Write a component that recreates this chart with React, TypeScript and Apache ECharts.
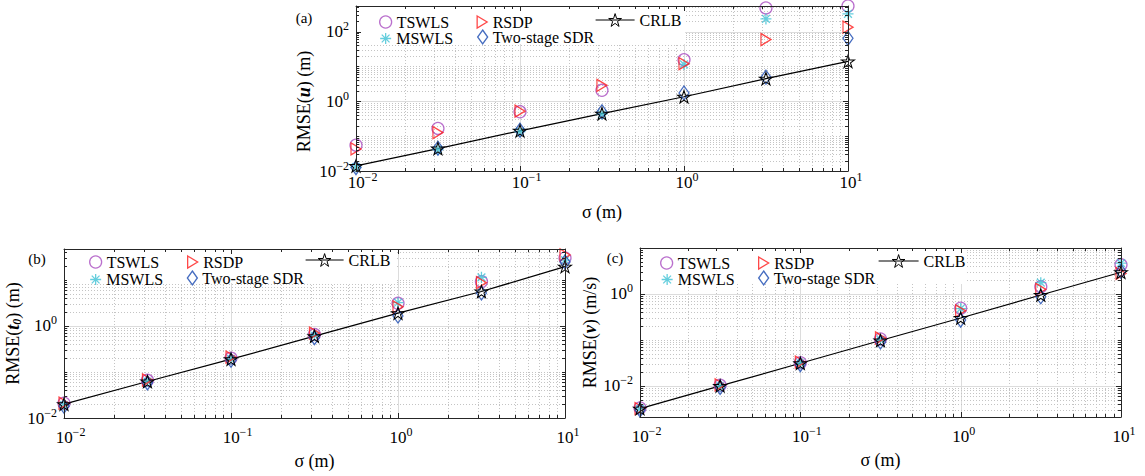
import React, { useEffect, useRef } from 'react';
import * as echarts from 'echarts';

// ---------------- data ----------------
const SIGMA = [0.01, 0.0316, 0.1, 0.316, 1, 3.16, 10];
const NAMES = ['TSWLS', 'MSWLS', 'RSDP', 'Two-stage SDR', 'CRLB'];

// (a) RMSE(u) (m)
const A_TSWLS = [0.055, 0.166, 0.5, 2.06, 15.5, 475, 540];
const A_MSWLS = [0.013, 0.041, 0.135, 0.43, 11.4, 230, 320];
const A_RSDP = [0.043, 0.127, 0.52, 2.86, 12, 59, 133];
const A_SDR = [0.0125, 0.045, 0.148, 0.5, 1.73, 4.9, 64];
const A_CRLB = [0.014, 0.044, 0.142, 0.44, 1.35, 4.45, 13.9];

// (b) RMSE(t0) (m)
const B_TSWLS = [0.021, 0.066, 0.2, 0.65, 3.1, 9.2, 30];
const B_MSWLS = [0.019, 0.062, 0.19, 0.62, 3.2, 11.4, 27];
const B_RSDP = [0.021, 0.067, 0.21, 0.7, 2.6, 8.7, 35];
const B_SDR = [0.018, 0.058, 0.18, 0.56, 1.65, 5.2, 24.6];
const B_CRLB = [0.02, 0.062, 0.19, 0.6, 1.9, 5.6, 19.5];

// (c) RMSE(v) (m/s)
const C_TSWLS = [0.0033, 0.0103, 0.032, 0.105, 0.49, 1.44, 4.3];
const C_MSWLS = [0.0031, 0.0098, 0.031, 0.1, 0.48, 1.76, 4.7];
const C_RSDP = [0.0032, 0.0105, 0.033, 0.11, 0.43, 1.26, 2.8];
const C_SDR = [0.003, 0.0093, 0.029, 0.09, 0.27, 0.87, 3.1];
const C_CRLB = [0.0032, 0.01, 0.031, 0.097, 0.3, 0.95, 2.97];

// tick-label exponents
const X_LABEL_EXP = [-2, -1, 0, 1];
const A_Y_LABEL_EXP = [-2, 0, 2];
const B_Y_LABEL_EXP = [-2, 0];
const C_Y_LABEL_EXP = [-2, 0];

// axis ranges
const X_RANGE = [0.01, 10];
const A_Y_RANGE = [0.01, 540];
const B_Y_RANGE = [0.01, 47];
const C_Y_RANGE = [0.0021, 10];

// ---------------- styling ----------------
const FONT = '"Liberation Serif", "Times New Roman", serif';
const AXIS_COLOR = '#262626';
const COLORS = ['#A94CC0', '#3FC2D4', '#FF1A1A', '#1747B0', '#000000'];

const STAR_PATH = (() => {
  let d = '';
  for (let i = 0; i < 10; i++) {
    const r = i % 2 === 0 ? 10 : 3.82;
    const a = -Math.PI / 2 + (i * Math.PI) / 5;
    d += (i ? 'L' : 'M') + (10 + r * Math.cos(a)).toFixed(2) + ',' + (10 + r * Math.sin(a)).toFixed(2);
  }
  return 'path://' + d + 'Z';
})();
const ASTERISK_PATH = 'path://M5,0L5,10M0,5L10,5M1.46,1.46L8.54,8.54M8.54,1.46L1.46,8.54';
const TRI_RIGHT_PATH = 'path://M0,0L10,6L0,12Z';

const SYMBOLS: any[] = [
  { symbol: 'circle', size: 12, lw: [12, 12], bw: 1.3 },
  { symbol: ASTERISK_PATH, size: 11, lw: [11, 11], bw: 1.3 },
  { symbol: TRI_RIGHT_PATH, size: [10, 12], lw: [11, 12], bw: 1.3 },
  { symbol: 'diamond', size: [10, 14], lw: [10, 14], bw: 1.3 },
  { symbol: STAR_PATH, size: [13, 12.4], lw: [40, 16], bw: 1 },
];

const PANELS: any[] = [
  {
    grid: { left: 356, top: 6, width: 492, height: 165 },
    yRange: A_Y_RANGE,
    yExp: A_Y_LABEL_EXP,
    data: [A_TSWLS, A_MSWLS, A_RSDP, A_SDR, A_CRLB],
    yName: 'RMSE({bi|u}) (m)',
    yNameGap: 43,
    yNamePad: [0, 26, 0, 0],
    xLabelMargin: 0,
    xNameGap: 32,
    tag: '(a)',
    tagPos: [304, 18],
    box: [357, 7, 328, 37],
    legend: [
      [379, 20], [379.5, 36], [476.5, 20], [477, 36], [595, 20],
    ],
    crlbWidth: 39,
  },
  {
    grid: { left: 64, top: 249, width: 501, height: 169 },
    yRange: B_Y_RANGE,
    yExp: B_Y_LABEL_EXP,
    data: [B_TSWLS, B_MSWLS, B_RSDP, B_SDR, B_CRLB],
    yName: 'RMSE({bi|t}{sb|0}) (m)',
    yNameGap: 40,
    yNamePad: [0, 0, 0, 0],
    xLabelMargin: 8,
    xNameGap: 34,
    tag: '(b)',
    tagPos: [37, 259],
    box: [65, 250, 330, 33],
    legend: [
      [89, 260], [89.5, 277], [187, 260], [186.7, 277], [305, 260],
    ],
    crlbWidth: 38,
  },
  {
    grid: { left: 640, top: 248, width: 481, height: 169 },
    yRange: C_Y_RANGE,
    yExp: C_Y_LABEL_EXP,
    data: [C_TSWLS, C_MSWLS, C_RSDP, C_SDR, C_CRLB],
    yName: 'RMSE({bi|v}) (m/s)',
    yNameGap: 39,
    yNamePad: [0, 0, 0, 0],
    xLabelMargin: 8,
    xNameGap: 34,
    tag: '(c)',
    tagPos: [615, 258],
    box: [641, 249, 326, 35],
    legend: [
      [660, 261], [661, 277], [758, 261], [758, 277], [878, 261],
    ],
    crlbWidth: 40,
  },
];

// ---------------- helpers ----------------
function expOf(v: number, allowed: number[]): number | null {
  const l = Math.log10(v);
  const e = Math.round(l);
  if (Math.abs(l - e) > 0.01) return null;
  return allowed.includes(e) ? e : null;
}
function supText(e: number) {
  return (e < 0 ? '\u2212' : '') + Math.abs(e);
}

function decor(xr: number[], xMaj: number[], yr: number[], yMaj: number[]) {
  const out: number[][] = [];
  const add = (min: number, max: number, maj: number[], dir: number) => {
    for (let e = Math.floor(Math.log10(min)) - 1; e <= Math.ceil(Math.log10(max)); e++) {
      for (let k = 1; k <= 9; k++) {
        const v = k * Math.pow(10, e);
        if (v <= min * 1.001 || v >= max / 1.001) continue;
        const major = k === 1 && maj.includes(e) ? 1 : 0;
        out.push(dir === 0 ? [v, 1, 0, major] : [1, v, 1, major]);
      }
    }
  };
  add(xr[0], xr[1], xMaj, 0);
  add(yr[0], yr[1], yMaj, 1);
  return out;
}

function gridRender(params: any, api: any) {
  const cs = params.coordSys;
  const dir = api.value(2);
  const major = api.value(3);
  const style = major
    ? { stroke: '#dcdcdc', lineWidth: 1 }
    : { stroke: '#c4c4c4', lineWidth: 1, lineDash: [1, 2] };
  if (dir === 0) {
    const x = Math.round(api.coord([api.value(0), 1])[0]) + 0.5;
    return { type: 'line', shape: { x1: x, y1: cs.y, x2: x, y2: cs.y + cs.height }, style };
  }
  const y = Math.round(api.coord([1, api.value(1)])[1]) + 0.5;
  return { type: 'line', shape: { x1: cs.x, y1: y, x2: cs.x + cs.width, y2: y }, style };
}

function tickRender(params: any, api: any) {
  const cs = params.coordSys;
  const dir = api.value(2);
  const L = api.value(3) ? 5 : 3;
  const style = { stroke: AXIS_COLOR, lineWidth: 1 };
  if (dir === 0) {
    const x = Math.round(api.coord([api.value(0), 1])[0]) + 0.5;
    const b = cs.y + cs.height;
    return {
      type: 'group',
      children: [
        { type: 'line', shape: { x1: x, y1: b, x2: x, y2: b - L }, style },
        { type: 'line', shape: { x1: x, y1: cs.y, x2: x, y2: cs.y + L }, style },
      ],
    };
  }
  const y = Math.round(api.coord([1, api.value(1)])[1]) + 0.5;
  const r = cs.x + cs.width;
  return {
    type: 'group',
    children: [
      { type: 'line', shape: { x1: cs.x, y1: y, x2: cs.x + L, y2: y }, style },
      { type: 'line', shape: { x1: r, y1: y, x2: r - L, y2: y }, style },
    ],
  };
}

function buildOption() {
  const grid: any[] = [];
  const xAxis: any[] = [];
  const yAxis: any[] = [];
  const series: any[] = [];
  const legend: any[] = [];
  const graphic: any[] = [];

  const xRich = {
    bw: { fontFamily: FONT, fontSize: 17, color: '#000', padding: [0, 0, 0, 13] },
    bn: { fontFamily: FONT, fontSize: 17, color: '#000', padding: [0, 0, 0, 6] },
    s: { fontFamily: FONT, fontSize: 12, color: '#000', padding: [0, 0, 11, 0] },
  };
  const yRich = {
    b: { fontFamily: FONT, fontSize: 17, color: '#000' },
    s: { fontFamily: FONT, fontSize: 12, color: '#000', padding: [0, 0, 11, 0] },
  };

  PANELS.forEach((p, pi) => {
    grid.push({ ...p.grid, containLabel: false });
    const lineStyle = { color: AXIS_COLOR, width: 1 };
    xAxis.push({
      type: 'log', logBase: 10, gridIndex: pi, position: 'bottom',
      min: X_RANGE[0], max: X_RANGE[1],
      axisLine: { show: true, onZero: false, lineStyle },
      axisTick: { show: false }, splitLine: { show: false }, minorTick: { show: false },
      axisLabel: {
        margin: p.xLabelMargin,
        formatter: (v: number) => {
          const e = expOf(v, X_LABEL_EXP);
          if (e === null) return '';
          return `{${e < 0 ? 'bw' : 'bn'}|10}{s|${supText(e)}}`;
        },
        rich: xRich,
      },
      name: 'σ (m)', nameLocation: 'middle', nameGap: p.xNameGap,
      nameTextStyle: { fontFamily: FONT, fontSize: 18, color: '#000' },
      z: 7,
    });
    xAxis.push({
      type: 'log', logBase: 10, gridIndex: pi, position: 'top',
      min: X_RANGE[0], max: X_RANGE[1],
      axisLine: { show: true, onZero: false, lineStyle },
      axisTick: { show: false }, splitLine: { show: false }, axisLabel: { show: false },
      z: 7,
    });
    yAxis.push({
      type: 'log', logBase: 10, gridIndex: pi, position: 'left',
      min: p.yRange[0], max: p.yRange[1],
      axisLine: { show: true, onZero: false, lineStyle },
      axisTick: { show: false }, splitLine: { show: false }, minorTick: { show: false },
      axisLabel: {
        margin: 7,
        formatter: (v: number) => {
          const e = expOf(v, p.yExp);
          if (e === null) return '';
          return `{b|10}{s|${supText(e)}}`;
        },
        rich: yRich,
      },
      name: p.yName, nameLocation: 'middle', nameGap: p.yNameGap, nameRotate: 90,
      nameTextStyle: {
        fontFamily: FONT, fontSize: 18, color: '#000', padding: p.yNamePad,
        rich: {
          bi: { fontFamily: FONT, fontSize: 18, color: '#000', fontWeight: 'bold', fontStyle: 'italic' },
          sb: { fontFamily: FONT, fontSize: 12, color: '#000', fontWeight: 'bold', fontStyle: 'italic', padding: [9, 0, 0, 0] },
        },
      },
      z: 7,
    });
    yAxis.push({
      type: 'log', logBase: 10, gridIndex: pi, position: 'right',
      min: p.yRange[0], max: p.yRange[1],
      axisLine: { show: true, onZero: false, lineStyle },
      axisTick: { show: false }, splitLine: { show: false }, axisLabel: { show: false },
      z: 7,
    });

    const dec = decor(X_RANGE, X_LABEL_EXP, p.yRange, p.yExp);
    series.push({
      type: 'custom', name: 'grid' + pi, xAxisIndex: pi * 2, yAxisIndex: pi * 2,
      data: dec, renderItem: gridRender, z: 1, silent: true, animation: false,
    });
    series.push({
      type: 'custom', name: 'ticks' + pi, xAxisIndex: pi * 2, yAxisIndex: pi * 2,
      data: dec, renderItem: tickRender, z: 6, silent: true, animation: false,
    });

    NAMES.forEach((name, si) => {
      const sym = SYMBOLS[si];
      const pts = SIGMA.map((x, i) => [x, p.data[si][i]]);
      const itemStyle = { color: 'rgba(0,0,0,0)', borderColor: COLORS[si], borderWidth: sym.bw };
      if (si < 4) {
        series.push({
          type: 'scatter', name, xAxisIndex: pi * 2, yAxisIndex: pi * 2, data: pts,
          symbol: sym.symbol, symbolSize: sym.size, itemStyle, clip: false, z: 5,
          silent: true, emphasis: { disabled: true },
        });
      } else {
        series.push({
          type: 'line', name, xAxisIndex: pi * 2, yAxisIndex: pi * 2, data: pts,
          symbol: sym.symbol, symbolSize: sym.size, showSymbol: true, itemStyle,
          lineStyle: { color: '#000', width: 1.2 }, clip: false, z: 5,
          silent: true, emphasis: { disabled: true },
        });
      }
      const [lx, ly] = p.legend[si];
      const iw = si === 4 ? p.crlbWidth : sym.lw[0];
      const ih = sym.lw[1];
      legend.push({
        data: [name], left: lx, top: ly - ih / 2, orient: 'horizontal', padding: 0,
        itemWidth: iw, itemHeight: ih, itemGap: 0, selectedMode: false, z: 10,
        itemStyle: { color: 'rgba(0,0,0,0)', borderColor: COLORS[si], borderWidth: sym.bw },
        lineStyle: { color: '#000', width: 1.2 },
        textStyle: { fontFamily: FONT, fontSize: 16, color: '#000', lineHeight: 15 },
      });
    });

    graphic.push({
      type: 'rect', z: 3, silent: true,
      shape: { x: p.box[0], y: p.box[1], width: p.box[2], height: p.box[3] },
      style: { fill: '#ffffff' },
    });
    graphic.push({
      type: 'text', z: 10, silent: true, x: p.tagPos[0], y: p.tagPos[1],
      style: { text: p.tag, fontFamily: FONT, fontSize: 15, fill: '#000', align: 'center', verticalAlign: 'middle' },
    });
  });

  return {
    animation: false,
    backgroundColor: '#ffffff',
    grid, xAxis, yAxis, series, legend, graphic,
  };
}

export default function App() {
  const ref = useRef<HTMLDivElement>(null);
  useEffect(() => {
    const chart = echarts.init(ref.current!, undefined, { renderer: 'svg' });
    chart.setOption(buildOption());
    return () => chart.dispose();
  }, []);
  return (
    <div
      ref={ref}
      style={{ position: 'absolute', left: 0, top: 0, width: 1145, height: 476, background: '#fff' }}
    />
  );
}
